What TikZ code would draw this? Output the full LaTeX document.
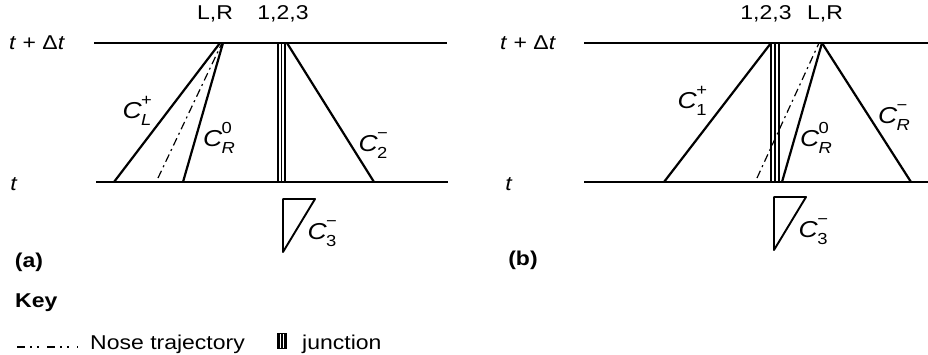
\documentclass[tikz,border=0pt]{standalone}
\usepackage{fontspec}
\usepackage{graphicx}
\setmainfont{Liberation Sans}
\newcommand{\hs}[1]{\scalebox{1.15}[1]{#1}}
\newcommand{\scsz}{\fontsize{16}{16}\selectfont}
\newcommand{\Cs}[2]{\textit{C}\kern-0.02em\makebox[0pt][l]{\raisebox{0.55em}{\scsz #1}}\raisebox{-0.32em}{\scsz #2}}
\begin{document}
\begin{tikzpicture}[x=1pt,y=-1pt,
  lbl/.style={inner sep=0pt,font=\fontsize{20}{20}\selectfont},
  clbl/.style={inner sep=0pt,font=\fontsize{23}{23}\selectfont},
  axis/.style={line width=2.1pt},
  char/.style={line width=2.2pt},
  nose/.style={line width=1.2pt,dash pattern=on 8pt off 4pt on 2pt off 4pt},
  jthin/.style={line width=1.5pt},
  jthick/.style={line width=2.6pt},
  tri/.style={line width=1.9pt,line join=round}]
\useasboundingbox (0,0) rectangle (928,354);

% ---------------- panel (a) ----------------
\coordinate (aTL) at (94,43);   \coordinate (aTR) at (447,43);
\coordinate (aBL) at (96,182);  \coordinate (aBR) at (448,182);
\draw[axis] (aTL) -- (aTR);
\draw[axis] (aBL) -- (aBR);
\node[lbl] (atdt) at (37,43) {\hs{\textit{t} + Δ\textit{t}}};
\node[lbl] (at) at (14,184) {\hs{\textit{t}}};
\node[lbl] (aLR) at (215,14) {\hs{L,R}};
\node[lbl] (a123) at (283,14) {\hs{1,2,3}};
% characteristics
\coordinate (aCLb) at (114,182); \coordinate (aCLt) at (220,43);
\coordinate (aNb) at (158,178);  \coordinate (aNt) at (222,43);
\coordinate (aCRb) at (183,182); \coordinate (aCRt) at (223,43);
\coordinate (aC2t) at (287,43);  \coordinate (aC2b) at (374,182);
\draw[char] (aCLb) -- (aCLt);
\draw[nose] (aNb) -- (aNt);
\draw[char] (aCRb) -- (aCRt);
\draw[char] (aC2t) -- (aC2b);
% junction
\coordinate (aJ1t) at (278,43); \coordinate (aJ1b) at (278,182);
\coordinate (aJ2t) at (281.5,43); \coordinate (aJ2b) at (281.5,182);
\coordinate (aJ3t) at (285,43); \coordinate (aJ3b) at (285,182);
\draw[jthin] (aJ1t) -- (aJ1b);
\draw[jthin] (aJ2t) -- (aJ2b);
\draw[jthick] (aJ3t) -- (aJ3b);
% labels
\node[clbl] (aCLl) at (137,111) {\hs{\Cs{+}{\textit{L}}}};
\node[clbl] (aCRl) at (219,138) {\hs{\Cs{0}{\textit{R}}}};
\node[clbl] (aC2l) at (373,146) {\hs{\Cs{−}{2}}};
% C3 triangle
\coordinate (aT1) at (283,199); \coordinate (aT2) at (315,199); \coordinate (aT3) at (283,252);
\draw[tri] (aT1) -- (aT2) -- (aT3) -- cycle;
\node[clbl] (aC3l) at (322,234) {\hs{\Cs{−}{3}}};
\node[lbl,font=\fontsize{20}{20}\selectfont\bfseries] (apa) at (29,262) {\hs{(a)}};

% ---------------- panel (b) ----------------
\coordinate (bTL) at (584,43);  \coordinate (bTR) at (928,43);
\coordinate (bBL) at (584,182); \coordinate (bBR) at (928,182);
\draw[axis] (bTL) -- (bTR);
\draw[axis] (bBL) -- (bBR);
\node[lbl] (btdt) at (528,43) {\hs{\textit{t} + Δ\textit{t}}};
\node[lbl] (bt) at (509,184) {\hs{\textit{t}}};
\node[lbl] (b123) at (766,14) {\hs{1,2,3}};
\node[lbl] (bLR) at (825,14) {\hs{L,R}};
\coordinate (bC1b) at (664,182); \coordinate (bC1t) at (771,43);
\coordinate (bNb) at (757,178);  \coordinate (bNt) at (819,43);
\coordinate (bCRb) at (782,182); \coordinate (bCRt) at (822,43);
\coordinate (bCmb) at (911,182);
\draw[char] (bC1b) -- (bC1t);
\draw[nose] (bNb) -- (bNt);
\draw[char] (bCRb) -- (bCRt);
\draw[char] (bCRt) -- (bCmb);
\coordinate (bJ1t) at (771,43); \coordinate (bJ1b) at (771,182);
\coordinate (bJ2t) at (775,43); \coordinate (bJ2b) at (775,182);
\coordinate (bJ3t) at (779,43); \coordinate (bJ3b) at (779,182);
\draw[jthin] (bJ1t) -- (bJ1b);
\draw[jthin] (bJ2t) -- (bJ2b);
\draw[jthick] (bJ3t) -- (bJ3b);
\node[clbl] (bC1l) at (692,101) {\hs{\Cs{+}{1}}};
\node[clbl] (bCRl) at (816,138) {\hs{\Cs{0}{\textit{R}}}};
\node[clbl] (bCml) at (894,118) {\hs{\Cs{−}{\textit{R}}}};
\coordinate (bT1) at (774,197); \coordinate (bT2) at (806,197); \coordinate (bT3) at (774,250);
\draw[tri] (bT1) -- (bT2) -- (bT3) -- cycle;
\node[clbl] (bC3l) at (813,232) {\hs{\Cs{−}{3}}};
\node[lbl,font=\fontsize{20}{20}\selectfont\bfseries] (bpb) at (523,260) {\hs{(b)}};

% ---------------- key ----------------
\node[lbl,font=\fontsize{20}{20}\selectfont\bfseries,anchor=west] (key) at (15,303) {\hs{Key}};
\coordinate (kN1) at (17,347); \coordinate (kN2) at (78,347);
\draw[line width=1.3pt,dash pattern=on 8pt off 5pt on 2pt off 5pt on 2pt off 8pt] (kN1) -- (kN2);
\node[lbl,anchor=base west] (knose) at (90,349) {\hs{Nose trajectory}};
\node[inner sep=0pt,minimum width=10pt,minimum height=16pt,fill=black] (kJ) at (282,341) {};
\draw[white,line width=0.7pt] ([xshift=-1.5pt,yshift=-1pt]kJ.north) -- ([xshift=-1.5pt,yshift=1pt]kJ.south);
\draw[white,line width=0.7pt] ([xshift=1.5pt,yshift=-1pt]kJ.north) -- ([xshift=1.5pt,yshift=1pt]kJ.south);
\node[lbl,anchor=base west] (kjunc) at (302,349) {\hs{junction}};
\end{tikzpicture}
\end{document}
